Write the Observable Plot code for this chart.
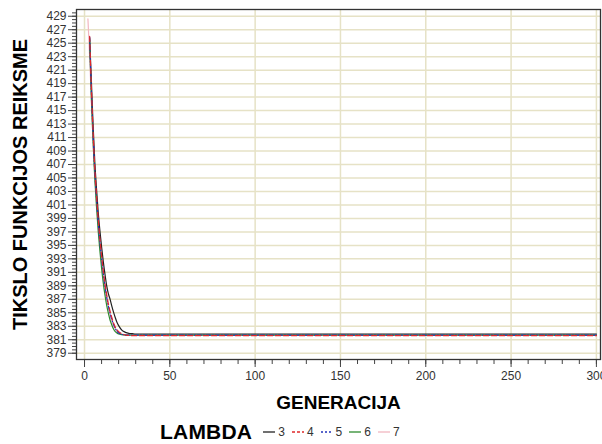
<!DOCTYPE html>
<html>
<head>
<meta charset="utf-8">
<script src="https://cdn.jsdelivr.net/npm/d3@7"></script>
<script src="https://cdn.jsdelivr.net/npm/@observablehq/plot@0.6"></script>
<style>
  html, body { margin: 0; padding: 0; background: #fff; }
  #chart { width: 602px; height: 444px; position: relative; font-family: Arial, "Liberation Sans", sans-serif; }
  #legend { position: absolute; left: 160px; top: 417px; height: 30px; display: flex; align-items: center; }
  #legend .title { font-weight: bold; font-size: 21px; color: #000; margin-right: 10px; letter-spacing: 0.2px; }
  #legend .item { display: flex; align-items: center; font-size: 12px; color: #333; margin-right: 6px; }
  #legend svg { margin-right: 2px; }
</style>
</head>
<body>
<div id="chart"></div>
<script>
// Generations at which the fitness value was recorded
const generations = [2, 3, 4, 5, 6, 7, 8, 9, 10, 11, 12, 13, 14, 15, 16, 17, 18, 19, 20, 22, 24, 26, 28, 30, 35, 40, 60, 100, 150, 200, 250, 300];

// Objective function value per lambda
const lambda3 = [null, 425.8, 419.5, 413.0, 407.5, 403.5, 400.0, 397.2, 394.8, 392.6, 390.7, 389.0, 387.8, 387.0, 386.0, 385.1, 384.3, 383.6, 383.1, 382.4, 382.1, 381.95, 381.9, 381.85, 381.85, 381.85, 381.85, 381.85, 381.85, 381.85, 381.85, 381.85];
const lambda4 = [null, 426.0, 418.5, 412.0, 406.5, 402.5, 399.0, 396.0, 393.5, 391.2, 389.3, 387.7, 386.3, 385.2, 384.3, 383.5, 382.9, 382.5, 382.2, 381.9, 381.7, 381.65, 381.6, 381.6, 381.6, 381.6, 381.6, 381.6, 381.6, 381.6, 381.6, 381.6];
const lambda5 = [null, 425.9, 418.0, 411.5, 406.0, 402.0, 398.5, 395.5, 393.0, 390.8, 388.9, 387.3, 386.0, 384.9, 384.0, 383.3, 382.7, 382.3, 382.0, 381.8, 381.7, 381.7, 381.7, 381.7, 381.7, 381.7, 381.7, 381.7, 381.7, 381.7, 381.7, 381.7];
const lambda6 = [null, 425.5, 417.0, 410.5, 405.0, 400.8, 397.2, 394.2, 391.6, 389.4, 387.6, 386.1, 384.9, 383.9, 383.2, 382.6, 382.2, 382.0, 381.85, 381.75, 381.7, 381.7, 381.7, 381.7, 381.7, 381.7, 381.7, 381.7, 381.7, 381.7, 381.7, 381.7];
const lambda7 = [428.6, 423.0, 416.5, 410.5, 405.5, 401.5, 398.0, 395.2, 392.8, 390.6, 388.7, 387.1, 385.8, 384.7, 383.8, 383.1, 382.6, 382.2, 382.0, 381.8, 381.75, 381.75, 381.75, 381.75, 381.75, 381.75, 381.75, 381.75, 381.75, 381.75, 381.75, 381.75];

const lambdas = ["3", "4", "5", "6", "7"];
const seriesValues = [lambda3, lambda4, lambda5, lambda6, lambda7];
const seriesColors = ["#222222", "#e0282a", "#2233bb", "#2e8b2e", "#f2b6c0"];
const seriesDash = [null, "5,3", "4,2,1,2", null, null];

const xTicks = [0, 50, 100, 150, 200, 250, 300];
const yTicks = d3.range(379, 430, 2);

// long-format rows for the line marks
const rows = [];
lambdas.forEach((lam, i) => {
  generations.forEach((g, j) => {
    const v = seriesValues[i][j];
    rows.push({lambda: lam, generation: g, value: v == null ? NaN : v});
  });
});

const grid = "#e6e2c6";

const lineMarks = lambdas.map((lam, i) =>
  Plot.line(rows.filter(d => d.lambda === lam), {
    x: "generation",
    y: "value",
    stroke: seriesColors[i],
    strokeWidth: 1.2,
    strokeDasharray: seriesDash[i],
    curve: "monotone-x"
  })
);

// draw the faint series first so the others sit on top
const ordered = [lineMarks[4], lineMarks[0], lineMarks[3], lineMarks[2], lineMarks[1]];

const plot = Plot.plot({
  width: 602,
  height: 414,
  marginTop: 9,
  marginBottom: 55,
  marginLeft: 76,
  marginRight: 2,
  style: {fontFamily: "Arial, 'Liberation Sans', sans-serif", color: "#333", background: "#fff"},
  x: {domain: [-4.7, 302.4]},
  y: {domain: [378.07, 430]},
  marks: [
    Plot.gridY(yTicks, {stroke: grid, strokeOpacity: 1, strokeWidth: 1.5}),
    Plot.gridX(xTicks, {stroke: grid, strokeOpacity: 1, strokeWidth: 1.5}),
    ...ordered,
    Plot.axisX(d3.range(0, 301, 10), {tickSize: 5, text: null, stroke: "#444", label: null}),
    Plot.axisX(xTicks, {tickSize: 8, tickPadding: 4, fontSize: 12, stroke: "#444", fill: "#333",
      label: "GENERACIJA", labelAnchor: "center", labelArrow: "none", labelOffset: 49}),
    Plot.axisY(d3.range(379, 430, 0.5), {tickSize: 4, text: null, stroke: "#444", label: null}),
    Plot.axisY(yTicks, {tickSize: 8, tickPadding: 2, fontSize: 12, stroke: "#444", fill: "#333",
      label: "TIKSLO FUNKCIJOS REIKSME", labelAnchor: "center", labelArrow: "none", labelOffset: 64}),
    Plot.frame({stroke: "#333", strokeWidth: 1.3})
  ]
});

// axis titles: bold and black
d3.select(plot).selectAll("g[aria-label='x-axis label'] text")
  .style("font-size", "19px").style("font-weight", "bold").attr("fill", "#000");
d3.select(plot).selectAll("g[aria-label='y-axis label'] text")
  .style("font-size", "20px").style("font-weight", "bold").attr("fill", "#000");

const chart = document.getElementById("chart");
chart.appendChild(plot);

// legend
const legend = document.createElement("div");
legend.id = "legend";
const title = document.createElement("span");
title.className = "title";
title.textContent = "LAMBDA";
legend.appendChild(title);
lambdas.forEach((lam, i) => {
  const item = document.createElement("span");
  item.className = "item";
  const dash = seriesDash[i] ? ` stroke-dasharray="${seriesDash[i] === "5,3" ? "3,2" : "2,2"}"` : "";
  item.innerHTML = `<svg width="14" height="10"><line x1="1" y1="5" x2="13" y2="5" stroke="${seriesColors[i]}" stroke-width="1.3"${dash}/></svg>${lam}`;
  legend.appendChild(item);
});
chart.appendChild(legend);
</script>
</body>
</html>
